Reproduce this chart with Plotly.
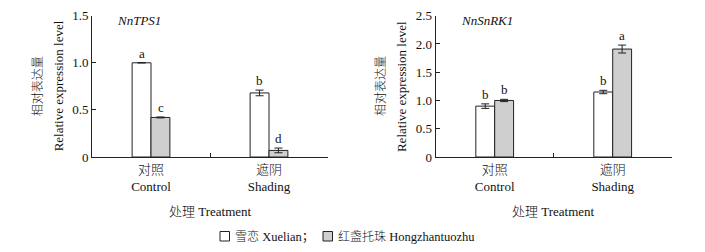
import plotly.graph_objects as go

categories = ["对照", "遮阴"]
categories_en = ["Control", "Shading"]
series_names = ["雪恋 Xuelian；", "红盏托珠 Hongzhantuozhu"]
series_zh = ["雪恋", "红盏托珠"]
series_en = ["Xuelian；", "Hongzhantuozhu"]

tps1_xuelian = [1.0, 0.68]
tps1_xuelian_err = [0.0, 0.03]
tps1_hong = [0.42, 0.07]
tps1_hong_err = [0.005, 0.025]
tps1_letters_x = ["a", "b"]
tps1_letters_h = ["c", "d"]

snrk1_xuelian = [0.90, 1.15]
snrk1_xuelian_err = [0.04, 0.03]
snrk1_hong = [1.00, 1.91]
snrk1_hong_err = [0.02, 0.07]
snrk1_letters_x = ["b", "b"]
snrk1_letters_h = ["b", "a"]

panel_titles = ["NnTPS1", "NnSnRK1"]
y_ticks_left = [0, 0.5, 1.0, 1.5]
y_ticklabels_left = ["0", "0.5", "1.0", "1.5"]
y_ticks_right = [0, 0.5, 1.0, 1.5, 2.0, 2.5]
y_ticklabels_right = ["0", "0.5", "1.0", "1.5", "2.0", "2.5"]

# page body has an 8px margin; figure sized to fit the window exactly
OFF = 8
W, H = 705 - 2 * OFF, 252 - 2 * OFF


def fx(p):
    return (p - OFF) / W


def fy(p):
    return 1 - (p - OFF) / H


def zh(t, size):
    return '<span style="font-size:%gpx;font-weight:300">%s</span>' % (size, t)


FONT = "Liberation Serif, Times New Roman, Noto Sans CJK SC"
TXT = "#111111"
WHITE = "#ffffff"
GREY = "#cfcfcf"
LINE = "#222222"

fig = go.Figure()

panels = [
    (tps1_xuelian, tps1_xuelian_err, tps1_hong, tps1_hong_err, tps1_letters_x, tps1_letters_h, "x", "y"),
    (snrk1_xuelian, snrk1_xuelian_err, snrk1_hong, snrk1_hong_err, snrk1_letters_x, snrk1_letters_h, "x2", "y2"),
]

for i, (vx, ex, vh, eh, lx, lh, xa, ya) in enumerate(panels):
    for name, vals, errs, color in [(series_names[0], vx, ex, WHITE), (series_names[1], vh, eh, GREY)]:
        fig.add_trace(go.Bar(
            x=categories, y=vals, name=name, xaxis=xa, yaxis=ya,
            marker=dict(color=color, line=dict(color=LINE, width=1)),
            error_y=dict(type="data", array=errs, visible=True, color=LINE, thickness=1, width=4),
            showlegend=False,
        ))
    for letters, vals, errs, shift in [(lx, vx, ex, -9.5), (lh, vh, eh, 9.5)]:
        for c, l, v, e in zip(categories, letters, vals, errs):
            fig.add_annotation(x=c, y=v + e, xref=xa, yref=ya, text=l, showarrow=False,
                               xshift=shift, yshift=0, yanchor="bottom",
                               font=dict(family=FONT, size=13, color=TXT))

xdom = [[fx(92), fx(328)], [fx(435.7), fx(671.7)]]
ydom = [fy(157), fy(15.7)]

tick_text = [zh(c, 13) + "<br>" + e for c, e in zip(categories, categories_en)]

axis_common = dict(showline=True, linecolor=LINE, linewidth=1, showgrid=False, zeroline=False,
                   tickfont=dict(family=FONT, size=13, color=TXT))
x_common = dict(range=[-0.5, 1.5], tickson="boundaries", tickmode="array", tickvals=categories,
                ticktext=tick_text, ticks="inside", ticklen=4, tickcolor=LINE, **axis_common)

fig.update_layout(
    width=W, height=H, margin=dict(l=0, r=0, t=0, b=0, autoexpand=False),
    plot_bgcolor="white", paper_bgcolor="white",
    barmode="group", bargap=0.68, bargroupgap=0,
    xaxis=dict(domain=xdom[0], anchor="y", **x_common),
    xaxis2=dict(domain=xdom[1], anchor="y2", **x_common),
    yaxis=dict(domain=ydom, anchor="x", range=[0, 1.5], tickvals=y_ticks_left, ticktext=y_ticklabels_left,
               ticks="inside", ticklen=4, tickcolor=LINE, **axis_common),
    yaxis2=dict(domain=ydom, anchor="x2", range=[0, 2.5], tickvals=y_ticks_right, ticktext=y_ticklabels_right,
                ticks="inside", ticklen=4, tickcolor=LINE, **axis_common),
    showlegend=False,
)

# panel titles, y titles, x titles
for i in range(2):
    x0, x1 = xdom[i]
    ax_px = [92, 435.7][i]
    fig.add_annotation(x=fx(ax_px + 23), y=fy(21), xref="paper", yref="paper",
                       text="<i>%s</i>" % panel_titles[i], showarrow=False, xanchor="left", yanchor="middle",
                       font=dict(family=FONT, size=13, color=TXT))
    fig.add_annotation(x=fx(ax_px - 54), y=sum(ydom) / 2, xref="paper", yref="paper", text=zh("相对表达量", 12),
                       textangle=-90, showarrow=False, xanchor="center", yanchor="middle",
                       font=dict(family=FONT, size=13, color=TXT))
    fig.add_annotation(x=fx(ax_px - 34), y=sum(ydom) / 2, xref="paper", yref="paper",
                       text="Relative expression level", xanchor="center", yanchor="middle",
                       textangle=-90, showarrow=False, font=dict(family=FONT, size=13, color=TXT))
    fig.add_annotation(x=(x0 + x1) / 2, y=fy(211), xref="paper", yref="paper",
                       text=zh("处理", 13) + " Treatment",
                       showarrow=False, xanchor="center", yanchor="middle",
                       font=dict(family=FONT, size=13, color=TXT))

# legend (drawn by hand to match the reference layout)
legend_items = [(220, 233, WHITE, 0), (323, 336, GREY, 1)]
for bx, tx, color, k in legend_items:
    fig.add_shape(type="rect", xref="paper", yref="paper", x0=fx(bx), x1=fx(bx + 9.5),
                  y0=fy(241), y1=fy(231.5), line=dict(color=LINE, width=1), fillcolor=color)
    fig.add_annotation(x=fx(tx), y=fy(236.5), xref="paper", yref="paper",
                       text=zh(series_zh[k], 12) + " " + series_en[k], showarrow=False,
                       xanchor="left", yanchor="middle", font=dict(family=FONT, size=12.5, color=TXT))

fig.write_html("out.html")
